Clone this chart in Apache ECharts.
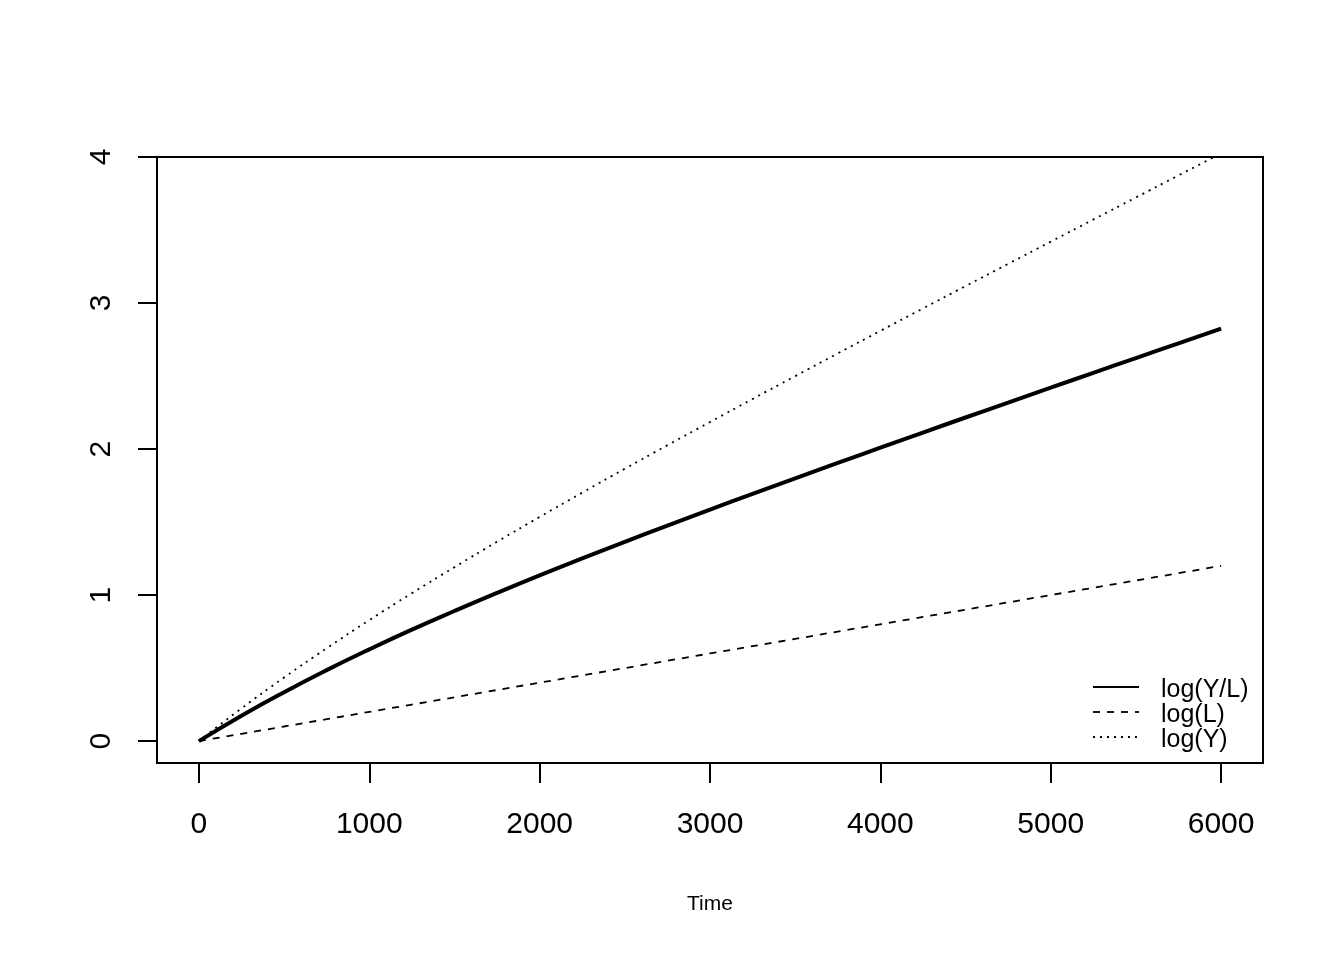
<!DOCTYPE html>
<html>
<head>
<meta charset="utf-8">
<script src="https://cdn.jsdelivr.net/npm/echarts@6/dist/echarts.min.js"></script>
<style>html,body{margin:0;padding:0;background:#fff}#c{width:1344px;height:960px}</style>
</head>
<body>
<div id="c"></div>
<script>
const time = [0,250,500,750,1000,1250,1500,1750,2000,2250,2500,2750,3000,3250,3500,3750,4000,4250,4500,4750,5000,5250,5500,5750,6000];
const logYL = [0,0.174,0.335,0.486,0.628,0.763,0.891,1.015,1.135,1.251,1.365,1.476,1.585,1.693,1.799,1.905,2.009,2.113,2.216,2.318,2.420,2.522,2.623,2.724,2.825];
const logL = [0,0.05,0.10,0.15,0.20,0.25,0.30,0.35,0.40,0.45,0.50,0.55,0.60,0.65,0.70,0.75,0.80,0.85,0.90,0.95,1.00,1.05,1.10,1.15,1.20];
const logY = [0,0.224,0.435,0.636,0.828,1.013,1.191,1.365,1.535,1.701,1.865,2.026,2.185,2.343,2.499,2.655,2.809,2.963,3.116,3.268,3.420,3.572,3.723,3.874,4.025];
const xTicks = [0,1000,2000,3000,4000,5000,6000];
const yTicks = [0,1,2,3,4];
const legendNames = ['log(Y/L)','log(L)','log(Y)'];

const FONT = '"Liberation Sans", Arial, sans-serif';
const pair = (ys) => time.map((t,i) => [t, ys[i]]);
const chart = echarts.init(document.getElementById('c'));

const legendRows = [
  {y: 687, type: 'solid', w: 2},
  {y: 712, type: [7,7], w: 1.8},
  {y: 737, type: [2,5], w: 1.8}
];
const graphics = [];
legendRows.forEach((r, i) => {
  graphics.push({type:'line', shape:{x1:1093,y1:r.y,x2:1139,y2:r.y}, style:{stroke:'#000', lineWidth:r.w, lineDash: r.type==='solid'?null:r.type}});
  graphics.push({type:'text', x:1161, y:r.y+3, style:{text:legendNames[i], fill:'#000', font:'25px ' + FONT, textVerticalAlign:'middle', textAlign:'left'}});
});

chart.setOption({
  animation: false,
  backgroundColor: '#fff',
  grid: {left:157, right:81, top:157, bottom:197, show:true, borderColor:'#000', borderWidth:2, backgroundColor:'transparent'},
  xAxis: {
    type:'value', min:-246, max:6246,
    name:'Time', nameLocation:'middle', nameGap:131,
    nameTextStyle:{fontSize:21, color:'#000', fontFamily:FONT},
    axisLine:{show:false, onZero:false},
    splitLine:{show:false},
    axisTick:{show:true, inside:false, customValues:xTicks, length:20, lineStyle:{color:'#000', width:2}},
    axisLabel:{customValues:xTicks, fontSize:30, color:'#000', fontFamily:FONT, margin:47, formatter:(v)=>String(v)}
  },
  yAxis: {
    type:'value', min:-0.15, max:4,
    axisLine:{show:false, onZero:false},
    splitLine:{show:false},
    axisTick:{show:true, inside:false, customValues:yTicks, length:19, lineStyle:{color:'#000', width:2}},
    axisLabel:{customValues:yTicks, fontSize:30, color:'#000', fontFamily:FONT, rotate:90, margin:40, formatter:(v)=>String(v)}
  },
  graphic: graphics,
  series: [
    {name:legendNames[0], type:'line', data:pair(logYL), showSymbol:false, symbol:'none', smooth:true, lineStyle:{color:'#000', width:4}},
    {name:legendNames[1], type:'line', data:pair(logL), showSymbol:false, symbol:'none', lineStyle:{color:'#000', width:1.8, type:[7,7]}},
    {name:legendNames[2], type:'line', data:pair(logY), showSymbol:false, symbol:'none', smooth:true, lineStyle:{color:'#000', width:1.8, type:[2,5]}}
  ]
});
</script>
</body>
</html>
